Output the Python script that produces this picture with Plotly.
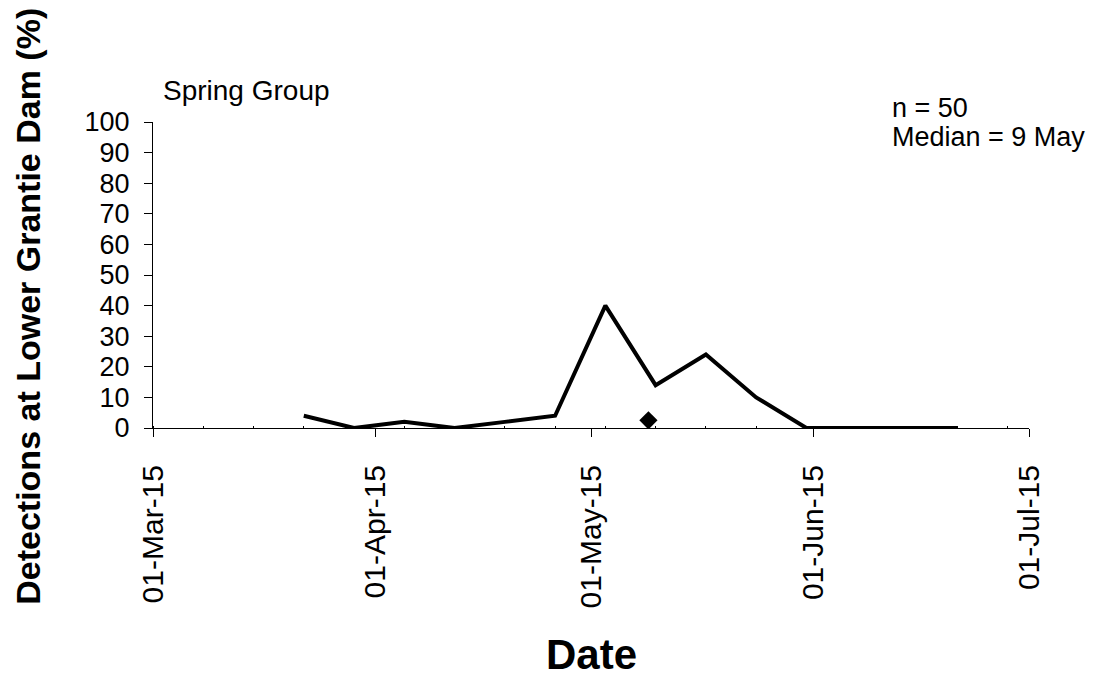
import plotly.graph_objects as go

# Data
dates = ["2015-03-22", "2015-03-29", "2015-04-05", "2015-04-12", "2015-04-19",
         "2015-04-26", "2015-05-03", "2015-05-10", "2015-05-17", "2015-05-24",
         "2015-05-31", "2015-06-07", "2015-06-14", "2015-06-21"]
detections_pct = [4, 0, 2, 0, 2, 4, 40, 14, 24, 10, 0, 0, 0, 0]
median_date = ["2015-05-09"]
median_y = [2.5]

FONT = "Arial, Liberation Sans, sans-serif"

fig = go.Figure()
fig.add_trace(go.Scatter(x=dates, y=detections_pct, mode="lines",
                         line=dict(color="black", width=4), showlegend=False))
fig.add_trace(go.Scatter(x=median_date, y=median_y, mode="markers",
                         marker=dict(symbol="diamond", size=14, color="black"),
                         showlegend=False))

fig.update_layout(
    width=1104, height=677,
    margin=dict(l=153, r=75, t=122, b=249),
    paper_bgcolor="white", plot_bgcolor="white",
    font=dict(family=FONT, color="black"),
    xaxis=dict(
        type="date", range=["2015-03-01", "2015-07-01"],
        tick0="2015-03-01", dtick="M1", tickformat="%d-%b-%y",
        tickangle=-90, tickfont=dict(size=30, family=FONT, color="black"),
        showline=True, linecolor="black", linewidth=1,
        ticks="outside", ticklen=8, tickcolor="black", tickwidth=1,
        showgrid=False, zeroline=False, ticklabelstandoff=16,
        minor=dict(ticks="inside", ticklen=2, tickcolor="black",
                   tick0="2015-03-01", dtick=604800000, showgrid=False),
    ),
    yaxis=dict(
        range=[0, 100], tick0=0, dtick=10,
        tickfont=dict(size=27, family=FONT, color="black"),
        showline=True, linecolor="black", linewidth=1,
        ticks="outside", ticklen=8, tickcolor="black", tickwidth=1,
        showgrid=False, zeroline=False, ticklabelstandoff=9,
    ),
    annotations=[
        dict(text="<b>Detections at Lower Grantie Dam (%)</b>", textangle=-90,
             xref="paper", yref="paper", x=-0.1422, y=0.3976,
             xanchor="center", yanchor="middle", showarrow=False,
             font=dict(size=34, family=FONT, color="black")),
        dict(text="<b>Date</b>", xref="paper", yref="paper", x=0.5, y=-0.7395,
             xanchor="center", yanchor="middle", showarrow=False,
             font=dict(size=42, family=FONT, color="black")),
        dict(text="Spring Group", xref="paper", yref="paper", x=0.0097, y=1.103,
             xanchor="left", yanchor="middle", showarrow=False,
             font=dict(size=28, family=FONT, color="black")),
        dict(text="n = 50", xref="paper", yref="paper", x=0.8409,
             y=(428 - 108) / 305.6,
             xanchor="left", yanchor="middle", showarrow=False,
             font=dict(size=27, family=FONT, color="black")),
        dict(text="Median = 9 May", xref="paper", yref="paper", x=0.8409,
             y=(428 - 137) / 305.6,
             xanchor="left", yanchor="middle", showarrow=False,
             font=dict(size=27, family=FONT, color="black")),
    ],
)

fig.write_html("out.html", config={"displayModeBar": False},
               post_script="document.body.style.margin='0';")
